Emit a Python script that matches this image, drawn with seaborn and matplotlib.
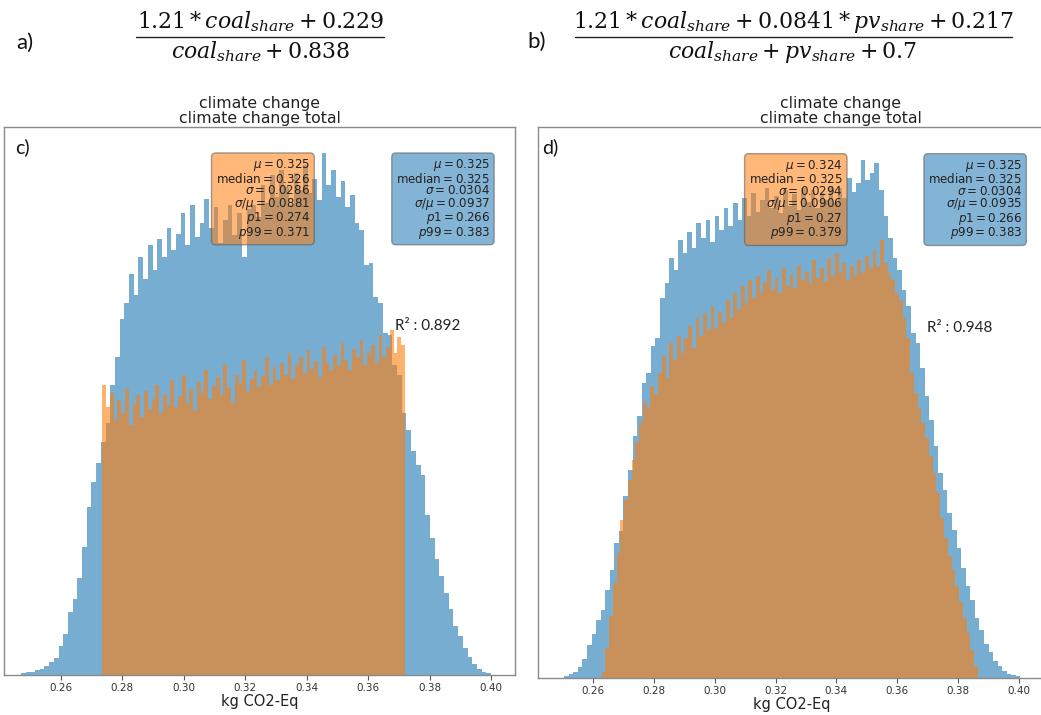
import numpy as np
import matplotlib
matplotlib.use("Agg")
import matplotlib.pyplot as plt
from matplotlib.lines import Line2D
import seaborn as sns

# ---------------- data (bin heights, arbitrary count units) ----------------
c_blue_range = (0.2470, 0.4000)
c_blue_counts = [
    2, 3, 3, 5, 6, 9, 13, 17, 29, 41,
    63, 76, 97, 128, 168, 193, 212, 233, 252, 290,
    318, 356, 372, 401, 380, 418, 396, 430, 405, 436,
    418, 447, 425, 441, 462, 430, 470, 438, 452, 476,
    447, 468, 432, 455, 470, 440, 462, 418, 466, 470,
    458, 490, 472, 500, 478, 505, 488, 470, 502, 485,
    510, 482, 496, 475, 522, 490, 505, 478, 494, 468,
    480, 452, 445, 410, 412, 378, 372, 342, 340, 310,
    300, 262, 245, 224, 210, 200, 160, 137, 116, 99,
    82, 66, 49, 39, 27, 18, 11, 6, 3, 2,
]
c_orange_range = (0.2735, 0.3720)
c_orange_counts = [
    290, 268, 282, 255, 275, 262, 286, 250, 271, 280,
    258, 284, 266, 276, 290, 262, 281, 270, 295, 268,
    279, 300, 272, 286, 265, 293, 282, 305, 276, 289,
    298, 280, 310, 287, 272, 300, 292, 315, 284, 296,
    305, 288, 299, 318, 290, 308, 295, 312, 300, 322,
    296, 310, 318, 302, 325, 306, 314, 298, 328, 312,
    305, 320, 310, 332, 315, 305, 326, 318, 335, 310,
    322, 330, 312, 340, 318, 328, 345, 322, 338, 330,
]
d_blue_range = (0.2505, 0.4005)
d_blue_counts = [
    2, 4, 6, 11, 19, 33, 44, 58, 68, 88,
    108, 135, 147, 182, 208, 242, 262, 295, 305, 332,
    340, 380, 395, 420, 408, 438, 425, 446, 430, 455,
    440, 458, 436, 462, 448, 470, 452, 475, 458, 480,
    462, 485, 466, 478, 490, 470, 482, 465, 488, 472,
    484, 468, 490, 476, 488, 470, 485, 478, 492, 475,
    490, 480, 500, 486, 495, 518, 498, 505, 515, 488,
    462, 440, 420, 408, 388, 372, 345, 335, 310, 282,
    258, 232, 205, 188, 165, 148, 130, 110, 92, 78,
    60, 48, 34, 26, 17, 12, 7, 4, 3, 2,
]
d_orange_range = (0.2628, 0.3865)
d_orange_counts = [
    6, 30, 62, 95, 125, 158, 178, 198, 218, 236,
    255, 276, 270, 292, 284, 305, 322, 300, 335, 318,
    342, 325, 340, 352, 330, 360, 342, 365, 348, 372,
    350, 366, 355, 378, 360, 385, 368, 392, 375, 398,
    380, 402, 385, 396, 408, 388, 400, 385, 410, 392,
    404, 390, 412, 398, 406, 395, 418, 400, 410, 396,
    420, 402, 425, 405, 415, 398, 412, 402, 418, 405,
    422, 410, 428, 412, 438, 415, 405, 398, 385, 378,
    360, 340, 305, 285, 270, 255, 240, 222, 205, 185,
    160, 140, 122, 108, 92, 76, 60, 45, 28, 12,
]

c_orange_stats = ["0.325", "0.326", "0.0286", "0.0881", "0.274", "0.371"]
c_blue_stats = ["0.325", "0.325", "0.0304", "0.0937", "0.266", "0.383"]
d_orange_stats = ["0.324", "0.325", "0.0294", "0.0906", "0.27", "0.379"]
d_blue_stats = ["0.325", "0.325", "0.0304", "0.0935", "0.266", "0.383"]
c_r2 = "0.892"
d_r2 = "0.948"

x_ticks = [0.26, 0.28, 0.30, 0.32, 0.34, 0.36, 0.38, 0.40]
x_tick_labels = ["0.26", "0.28", "0.30", "0.32", "0.34", "0.36", "0.38", "0.40"]

formula_a_num = r"$1.21 * coal_{share} + 0.229$"
formula_a_den = r"$coal_{share} + 0.838$"
formula_b_num = r"$1.21 * coal_{share} + 0.0841 * pv_{share} + 0.217$"
formula_b_den = r"$coal_{share} + pv_{share} + 0.7$"
title_text = "climate change\nclimate change total"
x_label = "kg CO2-Eq"

BLUE = "#1f77b4"
ORANGE = "#ff7f0e"

# ---------------- style ----------------
sns.set_theme(style="ticks")
plt.rcParams["font.family"] = ["DejaVu Sans"]
plt.rcParams["mathtext.fontset"] = "dejavusans"

W, H = 1041, 715
fig = plt.figure(figsize=(W / 100, H / 100), dpi=100)
axL = fig.add_axes([4 / W, 40 / H, 511 / W, 548 / H])
axR = fig.add_axes([538 / W, 37 / H, 508 / W, 551 / H])


def draw_hist(ax, rng, counts, color):
    n = len(counts)
    step = (rng[1] - rng[0]) / n
    centers = rng[0] + step * (np.arange(n) + 0.5)
    sns.histplot(x=centers, weights=np.asarray(counts, dtype=float),
                 bins=n, binrange=rng, color=color,
                 alpha=0.6, linewidth=0, ax=ax)


def stats_text(vals):
    return "\n".join([
        r"$\mu = %s$" % vals[0],
        r"$\mathrm{median} = %s$" % vals[1],
        r"$\sigma = %s$" % vals[2],
        r"$\sigma/\mu = %s$" % vals[3],
        r"$p1 = %s$" % vals[4],
        r"$p99 = %s$" % vals[5],
    ])


panels = [
    (axL, c_blue_range, c_blue_counts, c_orange_range, c_orange_counts,
     c_orange_stats, c_blue_stats, c_r2, (0.2415, 0.4078), 548, 0.5, 0.599, 0.951, 0.945),
    (axR, d_blue_range, d_blue_counts, d_orange_range, d_orange_counts,
     d_orange_stats, d_blue_stats, d_r2, (0.2419, 0.4089), 551, 0.596, 0.600, 0.953, 0.944),
]

for (ax, br, bc, orr, oc, ost, bst, r2, xl, ytop, tx, ox, bx, sy) in panels:
    draw_hist(ax, br, bc, BLUE)
    draw_hist(ax, orr, oc, ORANGE)
    ax.set_xlim(*xl)
    ax.set_ylim(0, ytop)
    ax.set_yticks([])
    ax.set_ylabel("")
    ax.set_xticks(x_ticks)
    ax.set_xticklabels(x_tick_labels)
    ax.tick_params(axis="x", length=3.5, width=0.8, color="#555555",
                   labelsize=7.5, labelcolor="#333333", pad=2)
    ax.set_xlabel(x_label, fontsize=10.5, color="#222222", labelpad=1)
    for s in ax.spines.values():
        s.set_visible(True)
        s.set_color("#8a8a8a")
        s.set_linewidth(1.0)
    ax.set_title(title_text, fontsize=11.3, color="#222222", pad=3, x=tx,
                 linespacing=1.0)
    for xx, vals, col in ((ox, ost, ORANGE), (bx, bst, BLUE)):
        ax.text(xx, sy, stats_text(vals), transform=ax.transAxes, ha="right",
                va="top", fontsize=8.6, color="#222222", linespacing=0.86,
                bbox=dict(boxstyle="round,pad=0.35", facecolor=col,
                          edgecolor="#555555", alpha=0.55))
    ax.text(0.765, 0.636, "R² : " + r2, transform=ax.transAxes, ha="left",
            va="center", fontsize=11, color="#222222", family=["Lato", "DejaVu Sans"])

axL.text(0.0215, 0.9635, "c)", transform=axL.transAxes, ha="left", va="center",
         fontsize=14, color="#111111", family=["Lato", "DejaVu Sans"])
axR.text(0.008, 0.9635, "d)", transform=axR.transAxes, ha="left", va="center",
         fontsize=14, color="#111111", family=["Lato", "DejaVu Sans"])

fig.text(25 / W, 1 - 43 / H, "a)", ha="center", va="center", fontsize=16,
         color="#111111", family=["Lato", "DejaVu Sans"])
fig.text(537 / W, 1 - 42 / H, "b)", ha="center", va="center", fontsize=16,
         color="#111111", family=["Lato", "DejaVu Sans"])

# fractions: numerator / bar / denominator
for cx, num, den, x0, x1 in ((260, formula_a_num, formula_a_den, 136, 384),
                             (793, formula_b_num, formula_b_den, 575, 1012)):
    fig.text(cx / W, 1 - 28 / H, num, ha="center", va="baseline", fontsize=15.8,
             color="#111111", math_fontfamily="dejavuserif")
    fig.text(cx / W, 1 - 58 / H, den, ha="center", va="baseline", fontsize=15.8,
             color="#111111", math_fontfamily="dejavuserif")
    fig.add_artist(Line2D([x0 / W, x1 / W], [1 - 37 / H, 1 - 37 / H],
                          transform=fig.transFigure, color="#222222", lw=1.0))

fig.savefig("out.png", dpi=100)
